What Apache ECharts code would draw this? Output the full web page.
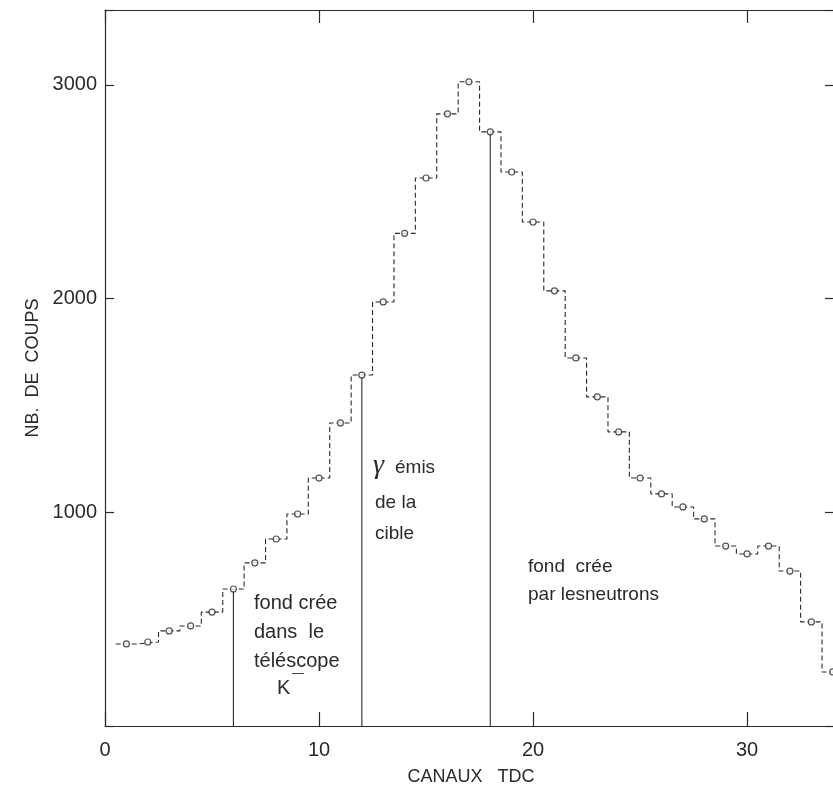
<!DOCTYPE html>
<html>
<head>
<meta charset="utf-8">
<script src="https://cdn.jsdelivr.net/npm/echarts@6/dist/echarts.min.js"></script>
<style>html,body{margin:0;padding:0;background:#fff}#c{width:833px;height:791px}</style>
</head>
<body>
<div id="c"></div>
<script>
// TDC channels and counts
var channels = [1,2,3,4,5,6,7,8,9,10,11,12,13,14,15,16,17,18,19,20,21,22,23,24,25,26,27,28,29,30,31,32,33,34];
var counts = [384,393,445,468,533,641,763,875,992,1160,1418,1642,1984,2305,2564,2864,3014,2780,2592,2358,2036,1722,1540,1376,1160,1086,1025,969,842,805,842,725,487,253];
// channels where the separating vertical lines are drawn
var cutChannels = [6, 12, 18];
var xTicks = [0, 10, 20, 30];
var yTicks = [1000, 2000, 3000];

var ink = '#2a2a2a';
var font = 'Liberation Sans, Arial, Helvetica, sans-serif';

// histogram outline built from the bins
var histo = [];
for (var i = 0; i < channels.length; i++) {
  histo.push([channels[i] - 0.5, counts[i]]);
  histo.push([channels[i] + 0.5, counts[i]]);
}
var points = channels.map(function (c, i) { return [c, counts[i]]; });
var cutSeries = cutChannels.map(function (c) {
  return {
    type: 'line', silent: true, symbol: 'none', z: 1,
    data: [[c, 0], [c, counts[channels.indexOf(c)]]],
    lineStyle: { color: ink, width: 1.1, type: 'solid' }
  };
});

var chart = echarts.init(document.getElementById('c'), null, { renderer: 'canvas' });
chart.setOption({
  backgroundColor: '#fff',
  animation: false,
  grid: { left: 105, right: -4, top: 10, bottom: 65, outerBoundsMode: 'none', containLabel: false },
  xAxis: [{
    type: 'value', min: 0, max: 34.2, interval: 10, position: 'bottom',
    name: 'CANAUX   TDC', nameLocation: 'middle', nameGap: 42,
    nameTextStyle: { fontFamily: font, fontSize: 18, color: ink },
    axisLine: { onZero: false, lineStyle: { color: ink, width: 1.2 } },
    axisTick: { inside: true, length: 14, lineStyle: { color: ink, width: 1.2 } },
    axisLabel: { fontFamily: font, fontSize: 20, color: ink, margin: 14, showMaxLabel: false },
    splitLine: { show: false }
  }, {
    type: 'value', min: 0, max: 34.2, interval: 10, position: 'top',
    axisLine: { onZero: false, lineStyle: { color: ink, width: 1.2 } },
    axisTick: { inside: true, length: 13, lineStyle: { color: ink, width: 1.2 } },
    axisLabel: { show: false }, splitLine: { show: false }
  }],
  yAxis: [{
    type: 'value', min: 0, max: 3350, interval: 1000, position: 'left',
    name: 'NB.  DE  COUPS', nameLocation: 'middle', nameGap: 47, nameRotate: 90,
    nameTextStyle: { fontFamily: font, fontSize: 18, color: ink },
    axisLine: { onZero: false, lineStyle: { color: ink, width: 1.2 } },
    axisTick: { inside: true, length: 9, lineStyle: { color: ink, width: 1.2 } },
    axisLabel: {
      fontFamily: font, fontSize: 20, color: ink, margin: 8, padding: [0, 0, 10, 0],
      formatter: function (v) { return yTicks.indexOf(v) >= 0 ? String(v) : ''; }
    },
    splitLine: { show: false }
  }, {
    type: 'value', min: 0, max: 3350, interval: 1000, position: 'right',
    axisLine: { show: true, onZero: false, lineStyle: { color: ink, width: 1.2 } },
    axisTick: { inside: true, length: 12, lineStyle: { color: ink, width: 1.2 } },
    axisLabel: { show: false }, splitLine: { show: false }
  }],
  series: [{
    type: 'line', data: histo, symbol: 'none', silent: true, z: 2,
    lineStyle: { color: ink, width: 1.1, type: [5, 3] }
  }, {
    type: 'scatter', data: points, symbol: 'circle', symbolSize: 6, z: 3,
    itemStyle: { color: '#fff', borderColor: ink, borderWidth: 1.2 }
  }].concat(cutSeries),
  graphic: [
    { type: 'text', left: 254, top: 589, style: { text: 'fond crée\ndans  le\ntéléscope', font: '20px ' + font, fill: ink, lineHeight: 29 } },
    { type: 'text', left: 277, top: 678, style: { text: 'K', font: '20px ' + font, fill: ink } },
    { type: 'text', left: 292, top: 668, style: { text: '—', font: '12px ' + font, fill: ink } },
    { type: 'text', left: 373, top: 452, style: { text: 'γ', font: 'italic 28px Liberation Serif, DejaVu Serif, serif', fill: ink } },
    { type: 'text', left: 395, top: 458, style: { text: 'émis', font: '19px ' + font, fill: ink } },
    { type: 'text', left: 375, top: 487, style: { text: 'de la\ncible', font: '19px ' + font, fill: ink, lineHeight: 31 } },
    { type: 'text', left: 528, top: 553, style: { text: 'fond  crée\npar lesneutrons', font: '19px ' + font, fill: ink, lineHeight: 28 } }
  ]
});
</script>
</body>
</html>
